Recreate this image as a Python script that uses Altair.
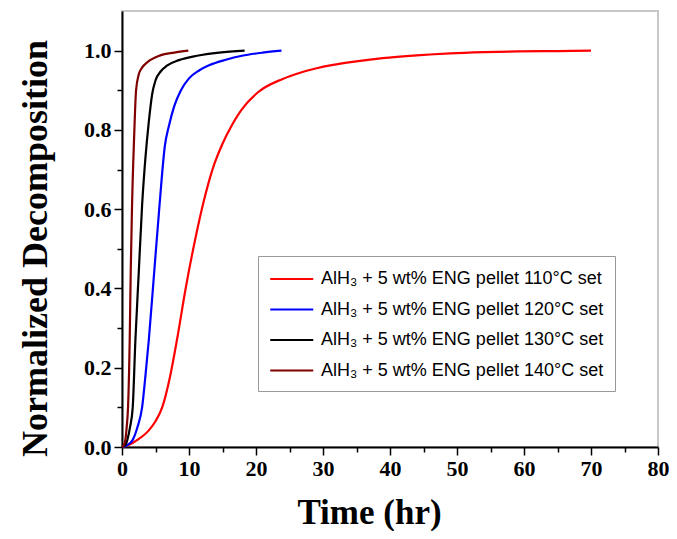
import altair as alt
import pandas as pd

series_labels = [
    "AlH₃ + 5 wt% ENG pellet 110°C set",
    "AlH₃ + 5 wt% ENG pellet 120°C set",
    "AlH₃ + 5 wt% ENG pellet 130°C set",
    "AlH₃ + 5 wt% ENG pellet 140°C set",
]
series_colors = ["#ff0000", "#0000ff", "#000000", "#800000"]

# 110 C
x_110 = [0, 1.0, 2.3, 4.0, 5.0, 6.0, 7.2, 8.2, 9.5, 11.0, 12.2, 13.5, 15.0, 16.5, 17.8, 20.3, 23.9, 26.7, 28.9, 31.5, 34.1, 38.9, 44.0, 49.0, 54.0, 59.0, 65.0, 70.0]
y_110 = [0, 0.005, 0.018, 0.042, 0.065, 0.10, 0.18, 0.27, 0.40, 0.53, 0.62, 0.70, 0.765, 0.815, 0.85, 0.895, 0.928, 0.945, 0.955, 0.964, 0.971, 0.981, 0.988, 0.993, 0.996, 0.998, 0.999, 1.0]
# 120 C
x_120 = [0, 0.8, 1.6, 2.3, 3.0, 3.5, 4.0, 4.8, 5.6, 6.4, 7.0, 7.8, 8.8, 10.0, 11.5, 13.0, 15.5, 17.9, 21.0, 23.8]
y_120 = [0, 0.005, 0.018, 0.05, 0.10, 0.18, 0.27, 0.44, 0.61, 0.76, 0.81, 0.86, 0.90, 0.93, 0.95, 0.963, 0.977, 0.987, 0.995, 1.0]
# 130 C
x_130 = [0, 0.5, 0.8, 1.2, 1.6, 2.0, 2.5, 3.0, 3.5, 4.0, 4.5, 5.0, 5.8, 6.7, 8.5, 11.2, 14.5, 18.3]
y_130 = [0, 0.005, 0.018, 0.05, 0.10, 0.27, 0.44, 0.61, 0.73, 0.82, 0.89, 0.925, 0.948, 0.962, 0.976, 0.987, 0.995, 1.0]
# 140 C
x_140 = [0, 0.3, 0.5, 0.7, 0.9, 1.15, 1.3, 1.5, 1.8, 2.1, 2.5, 3.0, 3.8, 5.7, 7.8, 9.9]
y_140 = [0, 0.005, 0.018, 0.05, 0.10, 0.27, 0.44, 0.61, 0.777, 0.90, 0.94, 0.957, 0.971, 0.988, 0.995, 1.0]

x_ticks = list(range(0, 81, 5))
y_ticks = [i / 10 for i in range(11)]

rows = []
for lab, xs, ys in zip(series_labels, [x_110, x_120, x_130, x_140], [y_110, y_120, y_130, y_140]):
    for i, (xv, yv) in enumerate(zip(xs, ys)):
        rows.append({"series": lab, "t": xv, "d": yv, "idx": i})
df = pd.DataFrame(rows)

serif = "Liberation Serif"

chart = alt.Chart(df).mark_line(strokeWidth=2.2, interpolate="monotone").encode(
    x=alt.X(
        "t:Q",
        scale=alt.Scale(domain=[0, 80], nice=False, zero=False),
        axis=alt.Axis(
            values=x_ticks,
            labelExpr="datum.value % 10 == 0 ? datum.label : ''",
            tickSize={"condition": {"test": "datum.value % 10 == 0", "value": 8}, "value": 5},
            title="Time (hr)",
            titleFontSize=35,
            titlePadding=16,
            titleX=247,
            titleAlign="center",
            labelPadding=3,
            labelFlush=False,
            labelOverlap=False,
        ),
    ),
    y=alt.Y(
        "d:Q",
        scale=alt.Scale(domain=[0, 1.1], nice=False),
        axis=alt.Axis(
            values=y_ticks,
            labelExpr="round(datum.value * 10) % 2 == 0 ? format(datum.value, '.1f') : ''",
            tickSize={"condition": {"test": "round(datum.value * 10) % 2 == 0", "value": 8}, "value": 5},
            title="Normalized Decomposition",
            titleFontSize=36,
            titlePadding=29,
            titleY=237,
            titleAlign="center",
            labelPadding=3,
            labelFlush=False,
            labelOverlap=False,
        ),
    ),
    color=alt.Color(
        "series:N",
        scale=alt.Scale(domain=series_labels, range=series_colors),
        legend=alt.Legend(
            title=None,
            orient="none",
            legendX=136,
            legendY=245,
            strokeColor="#999999",
            fillColor="white",
            padding=11,
            labelFont="Liberation Sans",
            labelFontSize=18,
            labelColor="black",
            labelLimit=400,
            symbolType="M-1,0H3",
            symbolSize=462,
            symbolStrokeWidth=2,
            rowPadding=9.5,
            labelOffset=28,
        ),
    ),
    order="idx:Q",
).properties(
    width=536,
    height=436,
    autosize=alt.AutoSizeParams(type="none"),
    padding={"left": 114, "top": 3, "right": 11, "bottom": 84},
).configure_view(
    stroke="#c8c8c8", strokeWidth=2
).configure_axis(
    domainColor="black",
    domainWidth=2,
    tickColor="black",
    tickWidth=1.5,
    grid=False,
    labelFont=serif,
    labelFontWeight="bold",
    labelFontSize=22,
    labelColor="black",
    titleFont=serif,
    titleFontWeight="bold",
    titleColor="black",
)

chart.save("out.html", embed_options={"renderer": "svg", "actions": False})
